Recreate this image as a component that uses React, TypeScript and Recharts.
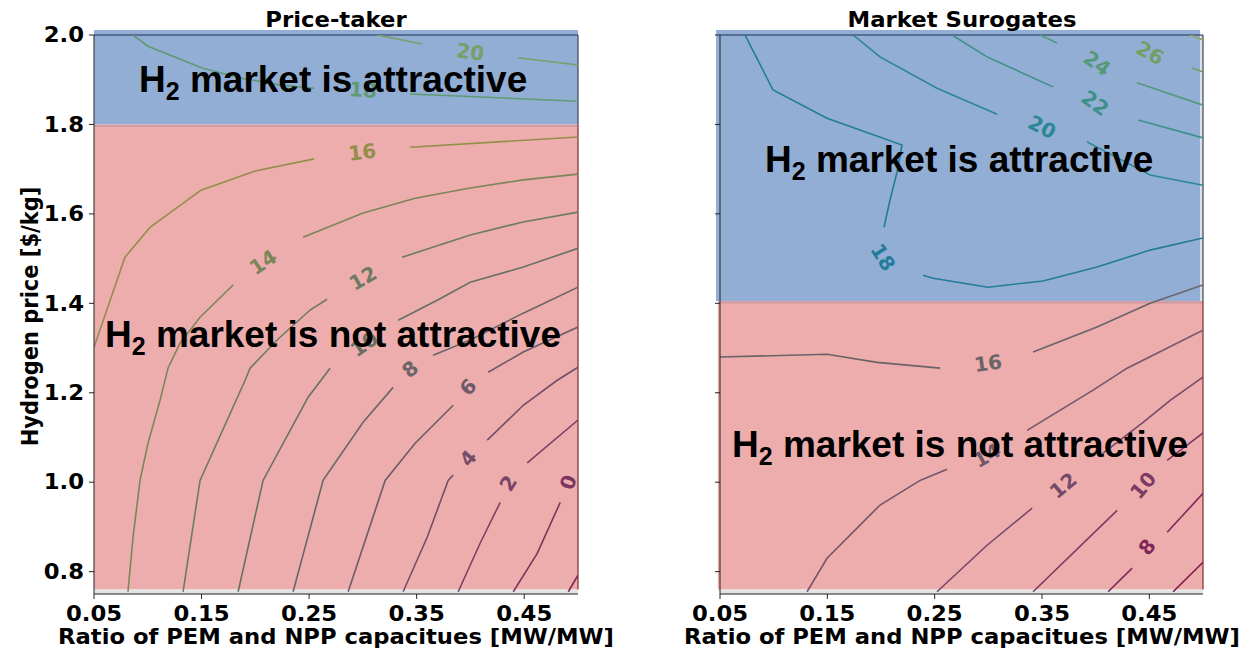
import React from 'react'
import {
  ComposedChart, Line, Scatter, XAxis, YAxis, ReferenceArea, ReferenceLine,
} from 'recharts'

type Pt = [number, number]
type Piece = Pt[]

const X_TICKS = [0.05, 0.15, 0.25, 0.35, 0.45]
const Y_TICKS = [0.8, 1.0, 1.2, 1.4, 1.6, 1.8, 2.0]

// Price-taker: contour levels and traced polylines (split where the inline label sits)
const PT_LEVELS = [-2, 0, 2, 4, 6, 8, 10, 12, 14, 16, 18, 20]
const ptM2: Piece[] = [[[0.491, 0.755], [0.5, 0.792]]]
const pt0: Piece[] = [[[0.4398, 0.755], [0.4621, 0.841], [0.4835, 0.955]]]
const pt2: Piece[] = [
  [[0.3886, 0.755], [0.4091, 0.864], [0.4277, 0.955]],
  [[0.4528, 1.043], [0.5, 1.139]],
]
const pt4: Piece[] = [
  [[0.3374, 0.755], [0.3598, 0.877], [0.3793, 1.004], [0.384, 1.016]],
  [[0.4156, 1.094], [0.4491, 1.172], [0.4807, 1.228], [0.5, 1.257]],
]
const pt6: Piece[] = [
  [[0.2863, 0.755], [0.3207, 1.004], [0.3486, 1.087], [0.384, 1.172]],
  [[0.4165, 1.246], [0.4491, 1.291], [0.5, 1.347]],
]
const pt8: Piece[] = [
  [[0.2351, 0.755], [0.263, 1.004], [0.3002, 1.134], [0.3281, 1.212]],
  [[0.3653, 1.284], [0.3998, 1.318], [0.4491, 1.378], [0.5, 1.436]],
]
const pt10: Piece[] = [
  [[0.184, 0.755], [0.2072, 1.004], [0.2491, 1.19], [0.2695, 1.255]],
  [[0.3328, 1.362], [0.3691, 1.407], [0.3998, 1.447], [0.4491, 1.481], [0.5, 1.523]],
]
const pt12: Piece[] = [
  [[0.1328, 0.755], [0.1486, 1.004], [0.1905, 1.228], [0.1951, 1.255], [0.2202, 1.318], [0.2509, 1.385], [0.2667, 1.409]],
  [[0.3365, 1.503], [0.3998, 1.553], [0.4491, 1.582], [0.5, 1.604]],
]
const pt14: Piece[] = [
  [[0.0816, 0.755], [0.0863, 0.877], [0.0928, 1.004], [0.1002, 1.087], [0.1114, 1.183], [0.1188, 1.255], [0.13, 1.311], [0.1486, 1.369], [0.1793, 1.441]],
  [[0.2444, 1.548], [0.3002, 1.602], [0.3486, 1.635], [0.3998, 1.658], [0.4491, 1.676], [0.5, 1.689]],
]
const pt16: Piece[] = [
  [[0.05, 1.302], [0.0788, 1.503], [0.1021, 1.57], [0.1495, 1.653], [0.1998, 1.696], [0.2547, 1.723]],
  [[0.344, 1.749], [0.5, 1.772]],
]
const pt18: Piece[] = [
  [[0.0863, 2.0], [0.1002, 1.975], [0.1505, 1.926], [0.1858, 1.904], [0.223, 1.888], [0.2547, 1.881]],
  [[0.344, 1.868], [0.5, 1.852]],
]
const pt20: Piece[] = [
  [[0.3133, 2.0], [0.3551, 1.98]],
  [[0.4444, 1.949], [0.5, 1.933]],
]
const PT_PIECES = [ptM2, pt0, pt2, pt4, pt6, pt8, pt10, pt12, pt14, pt16, pt18, pt20]

const PT_LABELS = [
  { level: 20, x: 0.3998, y: 1.962 },
  { level: 18, x: 0.3002, y: 1.877 },
  { level: 16, x: 0.2993, y: 1.738 },
  { level: 14, x: 0.2072, y: 1.492 },
  { level: 12, x: 0.3002, y: 1.456 },
  { level: 10, x: 0.3012, y: 1.309 },
  { level: 8, x: 0.344, y: 1.253 },
  { level: 6, x: 0.3979, y: 1.2125 },
  { level: 4, x: 0.3979, y: 1.054 },
  { level: 2, x: 0.4351, y: 0.998 },
  { level: 0, x: 0.4909, y: 1.0 },
]
const PT_LABEL_ANGLES = [8, 4, -7, -34, -30, -35, -40, -46, -50, -58, -70]

// Market surrogates
const MS_LEVELS = [6, 8, 10, 12, 14, 16, 18, 20, 22, 24, 26, 28]
const ms6: Piece[] = [[[0.4722, 0.755], [0.5, 0.821]]]
const ms8: Piece[] = [
  [[0.4116, 0.755], [0.434, 0.808]],
  [[0.4666, 0.888], [0.5, 0.975]],
]
const ms10: Piece[] = [
  [[0.3417, 0.755], [0.42, 0.937]],
  [[0.4666, 1.049], [0.5, 1.11]],
]
const ms12: Piece[] = [
  [[0.2522, 0.755], [0.2988, 0.859], [0.3408, 0.942]],
  [[0.4069, 1.065], [0.4442, 1.134], [0.4694, 1.183], [0.5, 1.235]],
]
const ms14: Piece[] = [
  [[0.1311, 0.755], [0.1497, 0.83], [0.1991, 0.949], [0.2364, 1.004], [0.2616, 1.029]],
  [[0.3361, 1.116], [0.3976, 1.206], [0.4293, 1.255], [0.5, 1.34]],
]
const ms16: Piece[] = [
  [[0.05, 1.28], [0.1497, 1.286], [0.1963, 1.268], [0.255, 1.255]],
  [[0.3417, 1.291], [0.4013, 1.347], [0.4507, 1.4], [0.5, 1.441]],
]
const ms18: Piece[] = [
  [[0.0733, 2.0], [0.0994, 1.877], [0.1497, 1.814], [0.2196, 1.754], [0.215, 1.694], [0.2084, 1.631], [0.2028, 1.57]],
  [[0.2392, 1.463], [0.2485, 1.456], [0.2998, 1.436], [0.351, 1.45], [0.4013, 1.481], [0.4507, 1.519], [0.5, 1.546]],
]
const ms20: Piece[] = [
  [[0.174, 2.0], [0.1991, 1.951], [0.2522, 1.881], [0.3082, 1.823]],
  [[0.392, 1.761], [0.4507, 1.687], [0.5, 1.664]],
]
const ms22: Piece[] = [
  [[0.2662, 2.0], [0.2988, 1.951], [0.3603, 1.884]],
  [[0.4396, 1.81], [0.5, 1.77]],
]
const ms24: Piece[] = [
  [[0.3482, 2.0], [0.364, 1.982]],
  [[0.4386, 1.893], [0.5, 1.843]],
]
const ms26: Piece[] = [[[0.4899, 1.926], [0.5, 1.917]]]
const ms28: Piece[] = [[[0.488, 2.0], [0.5, 1.989]]]
const MS_PIECES = [ms6, ms8, ms10, ms12, ms14, ms16, ms18, ms20, ms22, ms24, ms26, ms28]

const MS_LABELS = [
  { level: 26, x: 0.4507, y: 1.96 },
  { level: 24, x: 0.4013, y: 1.937 },
  { level: 22, x: 0.3995, y: 1.848 },
  { level: 20, x: 0.3501, y: 1.794 },
  { level: 18, x: 0.2019, y: 1.503 },
  { level: 16, x: 0.2998, y: 1.266 },
  { level: 14, x: 0.2988, y: 1.06 },
  { level: 12, x: 0.3697, y: 0.993 },
  { level: 10, x: 0.4442, y: 0.993 },
  { level: 8, x: 0.4479, y: 0.855 },
]
const MS_LABEL_ANGLES = [29, 35, 36, 27, 58, -8, -30, -40, -50, -52]

const DEJAVU = '"DejaVu Sans", sans-serif'
const ARIAL = '"Liberation Sans", Arial, sans-serif'

// viridis stops, interpolated linearly
const VIRIDIS = ['#440154', '#482475', '#414487', '#355f8d', '#2a788e', '#21918c',
  '#22a884', '#44bf70', '#7ad151', '#bddf26', '#fde725']
const hexRgb = (h: string) => [1, 3, 5].map(i => parseInt(h.slice(i, i + 2), 16))
function viridis(t: number) {
  const s = Math.min(Math.max(t, 0), 1) * 10
  const i = Math.min(Math.floor(s), 9)
  const f = s - i
  const a = hexRgb(VIRIDIS[i])
  const b = hexRgb(VIRIDIS[i + 1])
  return a.map((v, k) => v + (b[k] - v) * f)
}

// translucent boxes laid over the contours
const RED_TINT = { rgb: [210, 50, 50], alpha: 0.4 }
const BLUE_TINT = { rgb: [37, 93, 169], alpha: 0.5 }
function tinted(rgb: number[], tint: { rgb: number[]; alpha: number }) {
  const c = rgb.map((v, k) => Math.round(v * (1 - tint.alpha) + tint.rgb[k] * tint.alpha))
  return `rgb(${c.join(',')})`
}
const RED_FILL = tinted([255, 255, 255], RED_TINT)
const BLUE_FILL = tinted([255, 255, 255], BLUE_TINT)

const toRows = (pieces: Piece[]) => pieces.flatMap((seg, i) => [
  ...(i > 0 ? [{ x: seg[0][0], y: null as number | null }] : []),
  ...seg.map(([x, y]) => ({ x, y: y as number | null })),
])

const XTick = (tp: any) => (
  <text x={tp.x} y={tp.y} dy="0.71em" textAnchor="middle" fill="#000"
    fontFamily={DEJAVU} fontSize={20.5} fontWeight="bold"
    transform={`translate(${tp.x} 0) scale(1.11 1) translate(${-tp.x} 0)`}>
    {Number(tp.payload.value).toFixed(2)}
  </text>
)
const YTick = (tp: any) => (
  <text x={tp.x} y={tp.y} dy="0.355em" textAnchor="end" fill="#000"
    fontFamily={DEJAVU} fontSize={20.5} fontWeight="bold"
    transform={`translate(${tp.x} 0) scale(1.11 1) translate(${-tp.x} 0)`}>
    {Number(tp.payload.value).toFixed(1)}
  </text>
)
const NoTick = () => <g />

type PanelProps = {
  levels: number[]
  colorRange: [number, number]
  pieces: Piece[][]
  labels: { level: number; x: number; y: number }[]
  labelAngles: number[]
  split: number
  left: number
  width: number
  margin: { top: number; right: number; bottom: number; left: number }
  showYLabels: boolean
  blueX: [number, number]
  redX: [number, number]
}

function Panel({ levels, colorRange, pieces, labels, labelAngles, split, left, width, margin, showYLabels, blueX, redX }: PanelProps) {
  const [lo, hi] = colorRange
  const colorFor = (lvl: number) => {
    const i = levels.indexOf(lvl)
    const tint = pieces[i][0][0][1] > split ? BLUE_TINT : RED_TINT
    return tinted(viridis((lvl - lo) / (hi - lo)), tint)
  }
  const labelRows = labels.map((l, i) => ({ ...l, angle: labelAngles[i] }))

  return (
    <div style={{ position: 'absolute', left, top: 0 }}>
      <ComposedChart width={width} height={626} margin={margin}>
        <XAxis type="number" dataKey="x" domain={[0.05, 0.5]} ticks={X_TICKS} interval={0}
          allowDataOverflow height={40} tick={XTick} tickSize={5} tickMargin={7} stroke="#222" />
        <YAxis type="number" dataKey="y" domain={[0.75, 2.0]} ticks={Y_TICKS} interval={0}
          allowDataOverflow width={60} tick={showYLabels ? YTick : NoTick} tickSize={5} tickMargin={5} stroke="#222" />

        <ReferenceArea x1={blueX[0]} x2={blueX[1]} y1={split} y2={2.011}
          fill={BLUE_FILL} fillOpacity={1} stroke="none" ifOverflow="visible" />
        <ReferenceArea x1={redX[0]} x2={redX[1]} y1={0.76} y2={split}
          fill={RED_FILL} fillOpacity={1} stroke="none" ifOverflow="visible" />
        <ReferenceArea x1={0.05} x2={0.5} y1={0.75} y2={0.76}
          fill="#e4e4e4" fillOpacity={1} stroke="none" />
        {blueX[1] < 0.5 && (
          <ReferenceArea x1={blueX[1]} x2={0.5} y1={split} y2={2.0}
            fill="#dcdee4" fillOpacity={1} stroke="none" />
        )}
        <ReferenceLine y={split - 0.003} stroke="#cf99a0" strokeWidth={2} ifOverflow="visible" />
        <ReferenceLine y={2.0} stroke="#1f3152" strokeWidth={1.2} />
        <ReferenceLine segment={[{ x: 0.5, y: 0.76 }, { x: 0.5, y: split }]} stroke="#7d2a2a" strokeWidth={1.2} />
        <ReferenceLine segment={[{ x: 0.5, y: split }, { x: 0.5, y: 2.0 }]} stroke="#3a4660" strokeWidth={1.2} />

        {pieces.map((p, i) => (
          <Line key={`lvl${levels[i]}`} name={`${levels[i]}`} data={toRows(p)} dataKey="y"
            type="linear" stroke={colorFor(levels[i])} strokeWidth={1.6}
            dot={false} activeDot={false} connectNulls={false} isAnimationActive={false} />
        ))}

        <Scatter data={labelRows} dataKey="y" isAnimationActive={false}
          shape={(sp: any) => (
            <text x={sp.cx} y={sp.cy} textAnchor="middle" dominantBaseline="central"
              transform={`rotate(${sp.payload.angle} ${sp.cx} ${sp.cy})`}
              fill={colorFor(sp.payload.level)} fontFamily={DEJAVU} fontSize={20} fontWeight="bold">
              {sp.payload.level}
            </text>
          )} />
      </ComposedChart>
    </div>
  )
}

// centred text line in the DejaVu face, slightly widened like the rest of the figure
function Centered({ cx, top, size, stretch = 1.11, children }: {
  cx: number; top: number; size: number; stretch?: number; children: React.ReactNode
}) {
  return (
    <div style={{
      position: 'absolute', left: cx - 250, top, width: 500, display: 'flex',
      justifyContent: 'center', whiteSpace: 'nowrap', color: '#000',
      font: `bold ${size}px ${DEJAVU}`, lineHeight: `${size}px`, transform: `scaleX(${stretch})`,
    }}>
      <span>{children}</span>
    </div>
  )
}

const H2 = () => (
  <>H<span style={{ fontSize: 25, position: 'relative', top: 8 }}>2</span></>
)

function Note({ left, top, children }: { left: number; top: number; children: React.ReactNode }) {
  return (
    <div style={{
      position: 'absolute', left, top, whiteSpace: 'nowrap', color: '#000',
      font: `bold 37px ${ARIAL}`, lineHeight: '37px',
    }}>
      {children}
    </div>
  )
}

export default function App() {
  return (
    <div style={{ position: 'relative', width: 1233, height: 646 }}>
      <Panel levels={PT_LEVELS} colorRange={[-4, 22]} pieces={PT_PIECES} labels={PT_LABELS}
        labelAngles={PT_LABEL_ANGLES} split={1.8} left={0} width={592}
        margin={{ top: 27, right: 22, bottom: 0, left: 26 }}
        showYLabels blueX={[0.05, 0.5]} redX={[0.05, 0.5]} />
      <Panel levels={MS_LEVELS} colorRange={[6, 28]} pieces={MS_PIECES} labels={MS_LABELS}
        labelAngles={MS_LABEL_ANGLES} split={1.405} left={632} width={583}
        margin={{ top: 27, right: 20, bottom: 0, left: 20 }}
        showYLabels={false} blueX={[0.0463, 0.4973]} redX={[0.048, 0.5]} />

      <Centered cx={328} top={1.7} size={20.5}>Price-taker</Centered>
      <Centered cx={953.5} top={1.7} size={20.5}>Market Surogates</Centered>
      <Centered cx={328} top={619.2} size={21} stretch={1.08}>Ratio of PEM and NPP capacitues [MW/MW]</Centered>
      <Centered cx={953.5} top={619.2} size={21} stretch={1.08}>Ratio of PEM and NPP capacitues [MW/MW]</Centered>

      <div style={{
        position: 'absolute', left: 23.2 - 200, top: 308 - 10.5, width: 400, height: 21,
        textAlign: 'center', whiteSpace: 'nowrap', color: '#000',
        font: `bold 21px ${DEJAVU}`, lineHeight: '21px',
        transform: 'rotate(-90deg) scale(1, 1.11)',
      }}>
        Hydrogen price [$/kg]
      </div>

      <Note left={131} top={52.7}><H2 /> market is attractive</Note>
      <Note left={97} top={307.7}><H2 /> market is not attractive</Note>
      <Note left={757} top={132.7}><H2 /> market is attractive</Note>
      <Note left={724} top={417.7}><H2 /> market is not attractive</Note>
    </div>
  )
}
